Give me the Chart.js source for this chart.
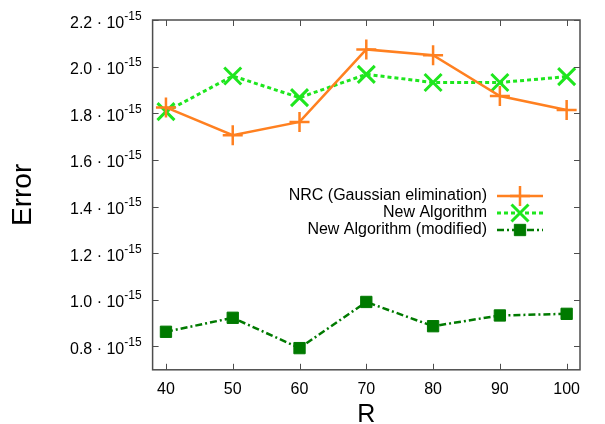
<!DOCTYPE html>
<html>
<head>
<meta charset="utf-8">
<script src="https://cdn.jsdelivr.net/npm/chart.js@4/dist/chart.umd.min.js"></script>
<style>
 body{margin:0;background:#fff;}
 #wrap{width:605px;height:424px;}
</style>
</head>
<body>
<div id="wrap"><canvas id="chart" width="605" height="424"></canvas></div>
<script>
/* data */
var r_values=[40,50,60,70,80,90,100];
var nrc_error=[1.825e-15,1.706e-15,1.763e-15,2.074e-15,2.049e-15,1.874e-15,1.814e-15];
var new_error=[1.807e-15,1.960e-15,1.867e-15,1.967e-15,1.932e-15,1.932e-15,1.957e-15];
var mod_error=[0.863e-15,0.923e-15,0.793e-15,0.991e-15,0.887e-15,0.933e-15,0.940e-15];
var x_ticks=[40,50,60,70,80,90,100];
var y_ticks=[0.8e-15,1.0e-15,1.2e-15,1.4e-15,1.6e-15,1.8e-15,2.0e-15,2.2e-15];
var y_labels=["0.8","1.0","1.2","1.4","1.6","1.8","2.0","2.2"];
var series_names=["NRC (Gaussian elimination)","New Algorithm","New Algorithm (modified)"];

var font_family="'Liberation Sans', Arial, Helvetica, sans-serif";

function points(values){
 return values.map(function(v,i){return {x:r_values[i],y:v};});
}

/* frame, inward ticks, y labels with exponent, legend */
var decor={
 id:'decor',
 afterDraw:function(chart){
  var ctx=chart.ctx;
  var a=chart.chartArea;
  var xs=chart.scales.x, ys=chart.scales.y;
  ctx.save();
  // frame
  ctx.strokeStyle='#4d4d4d';
  ctx.lineWidth=1.5;
  ctx.strokeRect(a.left,a.top,a.right-a.left,a.bottom-a.top);
  // inward ticks
  ctx.beginPath();
  x_ticks.forEach(function(v){
   var px=Math.round(xs.getPixelForValue(v))+0.5;
   ctx.moveTo(px,a.bottom);ctx.lineTo(px,a.bottom-6);
   ctx.moveTo(px,a.top);ctx.lineTo(px,a.top+6);
  });
  y_ticks.forEach(function(v){
   var py=Math.round(ys.getPixelForValue(v))+0.5;
   ctx.moveTo(a.left,py);ctx.lineTo(a.left+6,py);
   ctx.moveTo(a.right,py);ctx.lineTo(a.right-6,py);
  });
  ctx.lineWidth=1;
  ctx.stroke();
  // y tick labels: "m · 10^-15"
  ctx.fillStyle='#000';
  ctx.textBaseline='alphabetic';
  y_ticks.forEach(function(v,i){
   var py=ys.getPixelForValue(v);
   var right=a.left-11;
   ctx.font='12px '+font_family;
   var sup='-15';
   var sw=ctx.measureText(sup).width;
   ctx.textAlign='left';
   ctx.fillText(sup,right-sw,py-0.5);
   ctx.font='16px '+font_family;
   ctx.textAlign='right';
   ctx.fillText(y_labels[i]+' \u00b7 10',right-sw,py+7.5);
  });
  // legend
  var lx=487, sx0=497, sx1=543, ly=196;
  chart.data.datasets.forEach(function(ds,i){
   var y=ly+i*17;
   ctx.font='16px '+font_family;
   ctx.textAlign='right';
   ctx.textBaseline='middle';
   ctx.fillStyle='#000';
   ctx.fillText(series_names[i],lx,y);
   ctx.beginPath();
   ctx.setLineDash(ds.borderDash||[]);
   ctx.strokeStyle=ds.borderColor;
   ctx.lineWidth=ds.borderWidth;
   ctx.moveTo(sx0,y);ctx.lineTo(sx1,y);
   ctx.stroke();
   ctx.setLineDash([]);
   ctx.fillStyle=ds.pointBackgroundColor;
   ctx.strokeStyle=ds.pointBorderColor;
   ctx.lineWidth=ds.pointBorderWidth;
   ctx.beginPath();
   Chart.helpers.drawPoint(ctx,{
    pointStyle:ds.pointStyle,
    radius:ds.pointRadius,
    rotation:0,
    borderWidth:ds.pointBorderWidth
   },(sx0+sx1)/2,y);
  });
  ctx.restore();
 }
};

var ctx=document.getElementById('chart').getContext('2d');
var myChart=new Chart(ctx,{
 type:'line',
 data:{
  datasets:[
   {
    label:series_names[0],
    data:points(nrc_error),
    borderColor:'#ff8020',
    borderWidth:2.5,
    pointStyle:'cross',
    pointRadius:10,
    pointBorderWidth:2.5,
    pointBorderColor:'#ff8020',
    pointBackgroundColor:'#ff8020',
    clip:false
   },
   {
    label:series_names[1],
    data:points(new_error),
    borderColor:'#1ee61e',
    borderWidth:3,
    borderDash:[4,3],
    pointStyle:'crossRot',
    pointRadius:12,
    pointBorderWidth:3,
    pointBorderColor:'#1ee61e',
    pointBackgroundColor:'#1ee61e',
    clip:false
   },
   {
    label:series_names[2],
    data:points(mod_error),
    borderColor:'#007a00',
    borderWidth:2.5,
    borderDash:[7,3,2,3],
    pointStyle:'rect',
    pointRadius:8,
    pointBorderWidth:1,
    pointBorderColor:'#007a00',
    pointBackgroundColor:'#007a00',
    clip:false
   }
  ]
 },
 options:{
  responsive:false,
  animation:false,
  layout:{padding:{left:0,top:20,right:25,bottom:0}},
  plugins:{legend:{display:false},tooltip:{enabled:false}},
  elements:{line:{tension:0,fill:false}},
  scales:{
   x:{
    type:'linear',
    min:38,max:102,
    afterBuildTicks:function(s){s.ticks=x_ticks.map(function(v){return {value:v};});},
    grid:{display:false,drawTicks:false},
    border:{display:false},
    ticks:{color:'#000',padding:10,maxRotation:0,autoSkip:false,font:{family:font_family,size:16}},
    title:{display:true,text:'R',color:'#000',font:{family:font_family,size:25,lineHeight:0.52},padding:{top:0,bottom:2}}
   },
   y:{
    type:'linear',
    min:0.7e-15,max:2.2e-15,
    afterBuildTicks:function(s){s.ticks=y_ticks.map(function(v){return {value:v};});},
    grid:{display:false,drawTicks:false},
    border:{display:false},
    ticks:{display:false},
    title:{display:true,text:'Error',color:'#000',font:{family:font_family,size:28},padding:{top:6,bottom:113}}
   }
  }
 },
 plugins:[decor]
});
</script>
</body>
</html>
